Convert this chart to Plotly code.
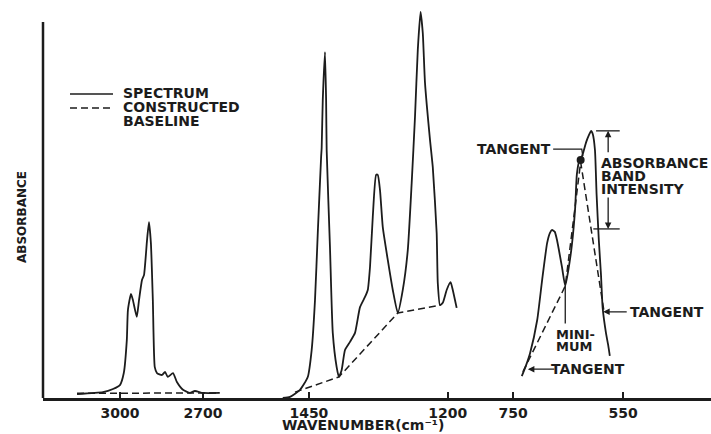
import plotly.graph_objects as go

# ---- C-H stretching region (3300-2560 cm-1) ----
ch_wavenumber = [3155, 3061, 3025, 3000, 2986, 2975, 2971, 2960, 2953, 2939,
                 2931, 2920, 2913, 2902, 2895, 2888, 2881, 2874, 2866, 2848,
                 2837, 2827, 2808, 2794, 2772, 2747, 2729, 2700, 2639]
ch_absorbance = [0.010, 0.015, 0.023, 0.033, 0.064, 0.149, 0.226, 0.267, 0.251, 0.208,
                 0.251, 0.303, 0.315, 0.405, 0.451, 0.397, 0.251, 0.079, 0.064, 0.059,
                 0.067, 0.054, 0.064, 0.041, 0.021, 0.013, 0.018, 0.013, 0.013]
ch_base_wavenumber = [3155, 2639]
ch_base_absorbance = [0.012, 0.013]

# ---- 1500-1180 cm-1 region ----
mid_wavenumber = [1497, 1484, 1466, 1452, 1445, 1439, 1434, 1428, 1427, 1425,
                  1421, 1419, 1418, 1412, 1407, 1400, 1396, 1391, 1385, 1376,
                  1367, 1358, 1349, 1344, 1340, 1335, 1329, 1326, 1322, 1317,
                  1308, 1299, 1290, 1281, 1272, 1265, 1259, 1254, 1249, 1245,
                  1241, 1232, 1227, 1220, 1218, 1214, 1209, 1202, 1195, 1191, 1184]
mid_absorbance = [0.000, 0.003, 0.021, 0.054, 0.123, 0.251, 0.423, 0.618, 0.641, 0.764,
                  0.887, 0.764, 0.636, 0.385, 0.167, 0.079, 0.054, 0.072, 0.123, 0.144,
                  0.167, 0.233, 0.259, 0.277, 0.336, 0.464, 0.572, 0.572, 0.533, 0.438,
                  0.354, 0.277, 0.218, 0.277, 0.379, 0.551, 0.721, 0.892, 0.990, 0.936,
                  0.808, 0.662, 0.592, 0.423, 0.295, 0.238, 0.244, 0.277, 0.297, 0.277, 0.231]
mid_base_wavenumber = [1475, 1396, 1290, 1213]
mid_base_absorbance = [0.015, 0.054, 0.218, 0.238]

# ---- 740-570 cm-1 doublet ----
low_wavenumber = [734, 726, 719, 706, 697, 688, 683, 679, 674, 670,
                  661, 655, 650, 643, 637, 634, 630, 626, 622, 617,
                  611, 608, 605, 601, 598, 594, 590, 587, 581, 577, 574]
low_absorbance = [0.056, 0.085, 0.115, 0.200, 0.303, 0.397, 0.423, 0.431, 0.426, 0.405,
                  0.336, 0.287, 0.323, 0.392, 0.487, 0.572, 0.605, 0.615, 0.631, 0.656,
                  0.677, 0.685, 0.677, 0.636, 0.521, 0.405, 0.315, 0.231, 0.167, 0.136, 0.108]
# tangent baseline: lower tangent -> minimum -> tangent point -> right-hand tangent
low_base_wavenumber = [732, 655, 627, 585]
low_base_absorbance = [0.067, 0.287, 0.605, 0.226]
tangent_point_wavenumber = [627]
tangent_point_absorbance = [0.610]

# axis ranges and ticks of the three broken-axis panels
panel_ranges = [[3278, 2566], [1574, 1142], [810, 390]]
panel_ticks = [[3000, 2700], [1450, 1200], [750, 550]]
panel_domains = [[0.0, 0.2949], [0.2949, 0.6542], [0.6542, 1.0]]

INK = "#1c1c1c"
FONT = "DejaVu Sans"


def text_font(size=14):
    return dict(family=FONT, size=size, color=INK, weight="bold")


fig = go.Figure()

spectra = [(ch_wavenumber, ch_absorbance, "x"),
           (mid_wavenumber, mid_absorbance, "x2"),
           (low_wavenumber, low_absorbance, "x3")]
baselines = [(ch_base_wavenumber, ch_base_absorbance, "x"),
             (mid_base_wavenumber, mid_base_absorbance, "x2"),
             (low_base_wavenumber, low_base_absorbance, "x3")]

for wn, ab, xa in spectra:
    fig.add_trace(go.Scatter(x=wn, y=ab, xaxis=xa, yaxis="y", mode="lines",
                             line=dict(color=INK, width=1.8, shape="spline", smoothing=0.5),
                             hoverinfo="skip"))
for wn, ab, xa in baselines:
    fig.add_trace(go.Scatter(x=wn, y=ab, xaxis=xa, yaxis="y", mode="lines",
                             line=dict(color=INK, width=1.5, dash="7px,4px"),
                             hoverinfo="skip"))

fig.add_trace(go.Scatter(x=tangent_point_wavenumber, y=tangent_point_absorbance,
                         xaxis="x3", yaxis="y", mode="markers",
                         marker=dict(color=INK, size=8), hoverinfo="skip"))

# band intensity: peak height above the tangent baseline at the peak position
peak_idx = max(range(len(low_absorbance)), key=lambda i: low_absorbance[i])
peak_wn = low_wavenumber[peak_idx]
peak_abs = low_absorbance[peak_idx]
bx0, bx1 = low_base_wavenumber[2], low_base_wavenumber[3]
by0, by1 = low_base_absorbance[2], low_base_absorbance[3]
base_at_peak = by0 + (peak_wn - bx0) / (bx1 - bx0) * (by1 - by0)

bracket_wn = 577
for level, left in [(peak_abs, 599), (base_at_peak, 604)]:
    fig.add_trace(go.Scatter(x=[left, 556], y=[level, level], xaxis="x3", yaxis="y",
                             mode="lines", line=dict(color=INK, width=1.3),
                             hoverinfo="skip"))

# leader line for the upper tangent label
fig.add_trace(go.Scatter(x=[677, 625, 623], y=[0.638, 0.638, 0.62], xaxis="x3", yaxis="y",
                         mode="lines", line=dict(color=INK, width=1.3), hoverinfo="skip"))

axis_common = dict(showgrid=False, zeroline=False, showline=True, linecolor=INK,
                   linewidth=2.5, ticks="inside", ticklen=6, tickwidth=1.5,
                   tickcolor=INK, tickfont=text_font(14), anchor="y")
layout_axes = {}
for i, (rng, tv, dom) in enumerate(zip(panel_ranges, panel_ticks, panel_domains)):
    name = "xaxis" if i == 0 else f"xaxis{i + 1}"
    layout_axes[name] = dict(range=rng, tickvals=tv, ticktext=[str(v) for v in tv],
                             domain=dom, **axis_common)

fig.update_layout(
    width=711, height=434,
    margin=dict(l=43, r=0, t=8, b=36),
    plot_bgcolor="white", paper_bgcolor="white",
    showlegend=False,
    yaxis=dict(range=[0, 1], showgrid=False, zeroline=False, showline=False,
               showticklabels=False, ticks=""),
    **layout_axes,
)

# vertical absorbance axis
fig.add_shape(type="line", xref="paper", yref="paper", x0=0, x1=0, y0=0, y1=0.964,
              line=dict(color=INK, width=2.5))

# legend key
fig.add_shape(type="line", xref="paper", yref="paper",
              x0=(70 - 43) / 668, x1=(113 - 43) / 668, y0=(398 - 94) / 390, y1=(398 - 94) / 390,
              line=dict(color=INK, width=1.5))
fig.add_shape(type="line", xref="paper", yref="paper",
              x0=(70 - 43) / 668, x1=(113 - 43) / 668, y0=(398 - 108) / 390, y1=(398 - 108) / 390,
              line=dict(color=INK, width=1.5, dash="7px,4px"))

annotations = []


def label(text, x, y, xref="paper", xanchor="left", size=14, **kw):
    annotations.append(dict(text=text, x=x, y=y, xref=xref, yref="paper" if xref == "paper" else "y",
                            xanchor=xanchor, yanchor="middle", showarrow=False,
                            font=text_font(size), borderpad=0, **kw))


lx = (122 - 43) / 668
label("SPECTRUM", lx, (398 - 93) / 390)
label("CONSTRUCTED", lx, (398 - 107) / 390)
label("BASELINE", lx, (398 - 121) / 390)

label("ABSORBANCE", (22 - 43) / 668, (398 - 217) / 390, xanchor="center", size=12, textangle=-90)
label("WAVENUMBER(cm⁻¹)", (363 - 43) / 668, (398 - 425) / 390, xanchor="center")

# annotations of the tangent construction
label("TANGENT", 679, 0.638, xref="x3", xanchor="right")
label("ABSORBANCE", 591, 0.603, xref="x3")
label("BAND", 591, 0.568, xref="x3")
label("INTENSITY", 591, 0.536, xref="x3")
label("TANGENT", 540, 0.221, xref="x3")
label("MINI-", 674, 0.164, xref="x3", size=13)
label("MUM", 674, 0.131, xref="x3", size=13)
label("TANGENT", 683, 0.074, xref="x3")


def arrow(x, y, ax, ay, head=2):
    annotations.append(dict(text="", x=x, y=y, xref="x3", yref="y", ax=ax, ay=ay,
                            showarrow=True, arrowhead=head, arrowsize=1, arrowwidth=1.3,
                            arrowcolor=INK, standoff=0, startstandoff=0, borderpad=0))


arrow(bracket_wn, peak_abs, 0, 22)
arrow(bracket_wn, base_at_peak, 0, -32)
arrow(586, 0.221, 24, 0)
arrow(723, 0.074, 27, 0)
arrow(655, 0.287, 0, 38, head=0)

fig.update_layout(annotations=annotations)

fig.write_html("out.html")
